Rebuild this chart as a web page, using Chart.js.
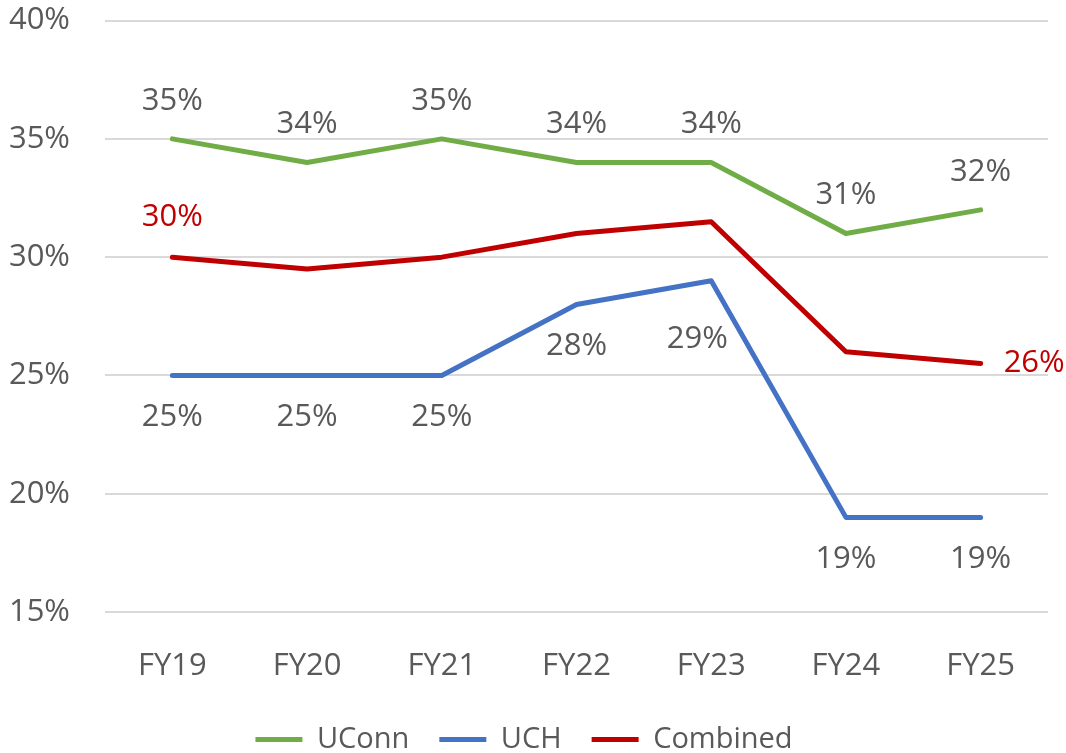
<!DOCTYPE html>
<html>
<head>
<meta charset="utf-8">
<script src="https://cdn.jsdelivr.net/npm/chart.js@4.4.1/dist/chart.umd.min.js"></script>
<style>
  html, body { margin: 0; padding: 0; background: #fff; overflow: hidden; }
  #wrap { width: 1066px; height: 753px; overflow: hidden; position: relative; }
  #chart { position: absolute; left: 0; top: -33px; }
</style>
</head>
<body>
<div id="wrap"><canvas id="chart" width="1066" height="797"></canvas></div>
<script>
// categories and series (percent)
const years = ['FY19', 'FY20', 'FY21', 'FY22', 'FY23', 'FY24', 'FY25'];
const uconn = [35, 34, 35, 34, 34, 31, 32];
const uch = [25, 25, 25, 28, 29, 19, 19];
const combined = [30, 29.5, 30, 31, 31.5, 26, 25.5];
// shown data labels
const uconnLabels = ['35%', '34%', '35%', '34%', '34%', '31%', '32%'];
const uchLabels = ['25%', '25%', '25%', '28%', '29%', '19%', '19%'];
const combinedLabels = ['30%', '', '', '', '', '', '26%'];

const FONT = '"Open Sans", "Liberation Sans", sans-serif';
const GREY = '#595959';

// draw data labels next to the points
const pointLabels = {
    id: 'pointLabels',
    afterDatasetsDraw(chart) {
        const ctx = chart.ctx;
        ctx.save();
        ctx.font = '31px ' + FONT;
        ctx.textBaseline = 'middle';
        chart.data.datasets.forEach(function (ds, i) {
            const meta = chart.getDatasetMeta(i);
            meta.data.forEach(function (pt, j) {
                const txt = ds.labels[j];
                if (!txt) return;
                ctx.fillStyle = ds.labelColor;
                let x = pt.x, y = pt.y;
                ctx.textAlign = 'center';
                if (ds.labelPos === 'above') y -= 38;
                else if (ds.labelPos === 'below') {
                    y += 42;
                    // the FY23 label is pushed off the steep line
                    if (j === 4) { x -= 14; y += 16; }
                }
                // combined: first above, last to the right
                if (ds.labelPos === 'mixed') {
                    if (j === 0) y -= 40;
                    else { x += 23; ctx.textAlign = 'left'; }
                }
                ctx.fillText(txt, x, y);
            });
        });
        ctx.restore();
    }
};

const ctx = document.getElementById('chart').getContext('2d');
const myChart = new Chart(ctx, {
    type: 'line',
    data: {
        labels: years,
        datasets: [{
            label: 'UConn',
            data: uconn,
            labels: uconnLabels,
            labelPos: 'above',
            labelColor: GREY,
            borderColor: '#70AD47',
            backgroundColor: '#70AD47'
        }, {
            label: 'UCH',
            data: uch,
            labels: uchLabels,
            labelPos: 'below',
            labelColor: GREY,
            borderColor: '#4472C4',
            backgroundColor: '#4472C4'
        }, {
            label: 'Combined',
            data: combined,
            labels: combinedLabels,
            labelPos: 'mixed',
            labelColor: '#C00000',
            borderColor: '#C00000',
            backgroundColor: '#C00000'
        }]
    },
    options: {
        responsive: false,
        animation: false,
        layout: { padding: { top: 0, right: 18, left: 0, bottom: 0 } },
        elements: {
            line: { borderWidth: 5, tension: 0, borderCapStyle: 'round', borderJoinStyle: 'round' },
            point: { radius: 0, hoverRadius: 0 }
        },
        scales: {
            x: {
                offset: true,
                grid: { display: false },
                border: { display: false },
                ticks: { color: GREY, font: { family: FONT, size: 31 }, padding: 28 },
                afterFit: function (s) { s.height = 83; }
            },
            y: {
                min: 15,
                max: 40,
                grid: { color: '#D9D9D9', lineWidth: 2, drawTicks: false },
                border: { display: false },
                ticks: {
                    stepSize: 5,
                    color: GREY,
                    padding: 35,
                    font: { family: FONT, size: 31 },
                    callback: function (v) { return v + '%'; }
                },
                afterFit: function (s) { s.width = 105; }
            }
        },
        plugins: {
            tooltip: { enabled: false },
            legend: {
                position: 'bottom',
                labels: {
                    color: GREY,
                    font: { family: FONT, size: 29 },
                    boxWidth: 47,
                    boxHeight: 5,
                    padding: 30,
                    generateLabels: function (chart) {
                        return chart.data.datasets.map(function (ds, i) {
                            return {
                                text: ds.label,
                                fillStyle: ds.borderColor,
                                strokeStyle: ds.borderColor,
                                lineWidth: 0,
                                fontColor: GREY,
                                datasetIndex: i
                            };
                        });
                    }
                }
            }
        }
    },
    plugins: [pointLabels]
});
</script>
</body>
</html>
